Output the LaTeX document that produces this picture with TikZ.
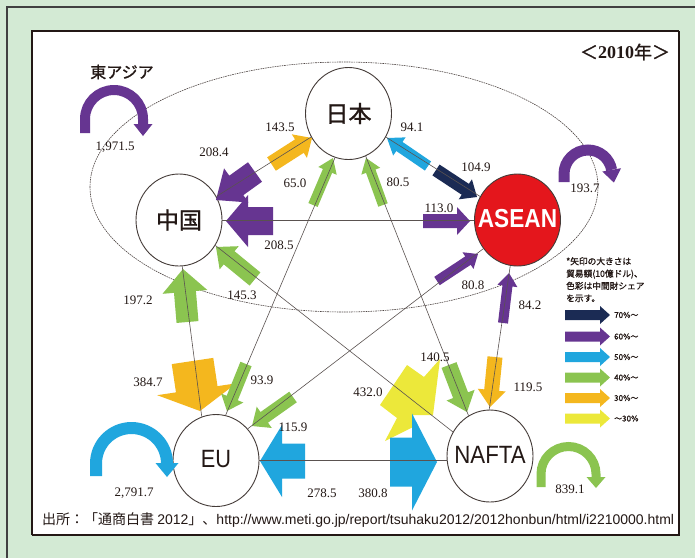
\documentclass[tikz,border=0pt]{standalone}
\usepackage{fontspec}
\setmainfont{Liberation Serif}
\newfontfamily\cjk{Noto Sans CJK JP}
\newfontfamily\cjkb{Noto Sans CJK JP}[FakeBold=1.2]
\newfontfamily\lsans{Liberation Sans}
\usetikzlibrary{calc,shapes.geometric}
\definecolor{bggreen}{RGB}{211,234,212}
\definecolor{cnavy}{RGB}{27,43,84}
\definecolor{cpurple}{RGB}{102,53,145}
\definecolor{ccyan}{RGB}{32,166,222}
\definecolor{cgreen}{RGB}{139,196,80}
\definecolor{corange}{RGB}{244,183,30}
\definecolor{cyellow}{RGB}{236,232,58}
\definecolor{cred}{RGB}{228,22,28}
\definecolor{ink}{RGB}{35,24,21}
\newcommand\fatarrow[6]{%
  \coordinate (faT) at (#2); \coordinate (faH) at (#3);
  \fill[#1] ($(faT)!#4pt!90:(faH)$) -- ($(faH)!#6pt!(faT)!#4pt!90:(faH)$) -- ($(faH)!#6pt!(faT)!#5pt!90:(faH)$) -- (faH) -- ($(faH)!#6pt!(faT)!#5pt!-90:(faH)$) -- ($(faH)!#6pt!(faT)!#4pt!-90:(faH)$) -- ($(faT)!#4pt!-90:(faH)$) -- cycle;}
\tikzset{
  region/.style={ellipse, draw=ink!85, line width=0.9pt, fill=white, minimum width=86pt, minimum height=92pt, inner sep=0pt},
  rname/.style={text=ink, inner sep=0pt},
  conn/.style={draw=ink!75, line width=0.6pt},
  num/.style={font=\fontsize{13}{13}\selectfont, text=ink, inner sep=0pt},
  legtxt/.style={font=\cjkb\fontsize{8}{8}\selectfont, text=ink, inner sep=0pt, anchor=west}
}
\begin{document}
\begin{tikzpicture}[x=1pt,y=-1pt]
\useasboundingbox (0,0) rectangle (695,558);
\fill[bggreen] (0,0) rectangle (695,558);
\draw[line width=2pt, draw=black!75] (7,558) -- (7,7) -- (695,7);
\fill[white] (32,31) rectangle (679,535);
\draw[line width=1.2pt, ink] (32,535) -- (32,31) -- (679,31);
\draw[line width=2.6pt, ink] (679,31) -- (679,535) -- (32,535);
% East Asia ellipse
\draw[ink!80, line width=0.6pt, dash pattern=on 1.6pt off 0.8pt] (344,187) ellipse [x radius=254, y radius=125];
% regions
\node[region, label={[rname, font=\cjkb\fontsize{23}{23}\selectfont]center:日本}] (jp) at (348.5,113.5) {};
\node[region, label={[rname, font=\cjkb\fontsize{23}{23}\selectfont]center:中国}] (zh) at (179,220) {};
\node[region, fill=cred, label={[rname, text=white, font=\lsans\bfseries\fontsize{26}{26}\selectfont, yshift=1.5pt]center:\scalebox{0.87}[1]{ASEAN}}] (as) at (517.5,220) {};
\node[region, label={[rname, font=\lsans\fontsize{25}{25}\selectfont, yshift=1pt]center:\scalebox{0.87}[1]{EU}}] (eu) at (216,460.5) {};
\node[region, label={[rname, font=\lsans\fontsize{25}{25}\selectfont, yshift=1.5pt]center:\scalebox{0.89}[1]{NAFTA}}] (na) at (490,456) {};
% block arrows
\fatarrow{corange}{271.5,164}{312,138}{8}{14}{15}
\fatarrow{cpurple}{255,172}{216,200}{12}{21}{25}
\fatarrow{cpurple}{273,221}{226,221}{14}{26}{22}
\fatarrow{cpurple}{423,221}{470,221}{7}{14}{13}
\fatarrow{ccyan}{428,166}{387,138}{5.5}{11}{15}
\fatarrow{cnavy}{436,170}{477,197}{6.5}{12}{14}
\fatarrow{cgreen}{313,205}{333,158}{5}{10}{14}
\fatarrow{cgreen}{383,205}{366,158}{5}{10}{14}
\fatarrow{cgreen}{255,279}{216,247}{8.5}{15}{17}
\fatarrow{cgreen}{187.5,322}{183,269}{11}{22.5}{23}
\fatarrow{corange}{192.5,361}{200,411}{21}{40}{22}
\fatarrow{cgreen}{246,364}{227,411}{6}{12}{14}
\fatarrow{cgreen}{293,397}{252,426}{6.5}{13}{15}
\fatarrow{cpurple}{437,281}{478,254}{5}{10}{12}
\fatarrow{cpurple}{503,323}{509,273}{5}{10}{13}
\fatarrow{corange}{495,357}{490,407}{7.5}{14}{17}
\fatarrow{cgreen}{449,365}{467,412}{8}{15}{18}
\fill[cyellow] (407,365) -- (424,377) -- (440,359) -- (433,415) -- (413,415) -- (413,427) -- (385,441) -- (397,418) -- (380,405) -- cycle;
\fatarrow{ccyan}{305,461}{260,461}{17.5}{36}{22}
\fatarrow{ccyan}{390,462}{437,462}{24.5}{48.5}{25}
% connectors
\draw[conn] (zh) -- (jp);
\draw[conn] (jp) -- (as);
\draw[conn] (zh.east) -- (as.west);
\draw[conn] (eu.east) -- (eu.east -| na.west);
\draw[conn] (zh.-86) -- (eu.108);
\draw[conn] (jp.-107) -- (eu.78);
\draw[conn] (jp.-68.5) -- (na.118);
\draw[conn] (zh.-35.4) -- (na.147.5);
\draw[conn] (as.-140.6) -- (eu.45.4);
\draw[conn] (as.-99.3) -- (na.91.2);
% self loops
\draw[cpurple, line width=10pt] (85,133) -- (85,119) arc[start angle=180, end angle=360, radius=29] -- (143,124);
\fill[cpurple] (133.5,124) -- (152.5,124) -- (143,136) -- cycle;
\draw[cpurple, line width=11pt] (564,182) -- (564,174) arc[start angle=180, end angle=350, radius=24];
\fill[cpurple] (602.3,171.5) -- (621.0,168.2) -- (613.9,182.6) -- cycle;
\draw[ccyan, line width=12pt] (96,476) -- (96,463.5) arc[start angle=180, end angle=360, radius=35.5];
\fill[ccyan] (155.5,463) -- (178.5,463) -- (167,477) -- cycle;
\draw[cgreen, line width=9pt] (541,487) -- (541,474) arc[start angle=180, end angle=360, radius=27.5] -- (596,477);
\fill[cgreen] (586.5,477) -- (605.5,477) -- (596,488) -- cycle;
% numbers
\node[num] at (115,147) {1,971.5};
\node[num] at (280,127) {143.5};
\node[num] at (214,152) {208.4};
\node[num] at (295,183) {65.0};
\node[num] at (279,245) {208.5};
\node[num] at (412,127) {94.1};
\node[num] at (476,167) {104.9};
\node[num] at (398,182) {80.5};
\node[num] at (439,208) {113.0};
\node[num] at (585,188) {193.7};
\node[num] at (138,300) {197.2};
\node[num] at (242,295) {145.3};
\node[num] at (473,285) {80.8};
\node[num] at (530,305) {84.2};
\node[num] at (148,382) {384.7};
\node[num] at (262,380) {93.9};
\node[num] at (435,357) {140.5};
\node[num] at (368,392) {432.0};
\node[num] at (528,387) {119.5};
\node[num] at (293,427) {115.9};
\node[num] at (134,493) {2,791.7};
\node[num] at (322,493) {278.5};
\node[num] at (373,493) {380.8};
\node[num] at (570,489) {839.1};
% titles
\node[text=ink, inner sep=0] (ea) at (122,72) {\cjkb\fontsize{16}{16}\selectfont 東アジア};
\node[text=ink, inner sep=0] (yr) at (625,52) {\fontsize{18}{18}\selectfont{\cjkb ＜}\textbf{2010}{\cjkb 年＞}};
% legend
\node[anchor=north west, align=left, inner sep=0, text=ink, font=\cjkb\fontsize{8.7}{12.3}\selectfont] (lg) at (566,257) {*矢印の大きさは\\貿易額(10億ドル)、\\色彩は中間財シェア\\を示す。};
\fatarrow{cnavy}{565,315}{610,315}{5}{9}{10}
\fatarrow{cpurple}{565,336.5}{610,336.5}{5}{9}{10}
\fatarrow{ccyan}{565,357}{610,357}{5}{9}{10}
\fatarrow{cgreen}{565,377.5}{610,377.5}{5}{9}{10}
\fatarrow{corange}{565,398}{610,398}{5}{9}{10}
\fatarrow{cyellow}{565,418.5}{610,418.5}{5}{9}{10}
\node[legtxt] at (614,315) {70\%～};
\node[legtxt] at (614,336.5) {60\%～};
\node[legtxt] at (614,357) {50\%～};
\node[legtxt] at (614,377.5) {40\%～};
\node[legtxt] at (614,398) {30\%～};
\node[legtxt] at (614,418.5) {～30\%};
% source
\node[anchor=west, inner sep=0, text=ink] (src) at (42,520) {\cjk\fontsize{14}{14}\selectfont 出所：「通商白書 {\lsans 2012}」、{\lsans http://www.meti.go.jp/report/tsuhaku2012/2012honbun/html/i2210000.html}};
\end{tikzpicture}
\end{document}
